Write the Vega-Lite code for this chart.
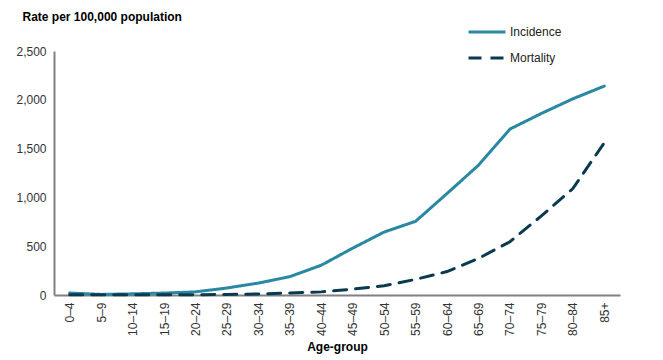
{
  "$schema": "https://vega.github.io/schema/vega-lite/v6.json",
  "width": 566,
  "height": 244,
  "autosize": {"type": "none"},
  "padding": {"left": 54, "top": 51, "right": 43, "bottom": 65},
  "background": "white",
  "config": {
    "view": {"stroke": null},
    "font": "Liberation Sans",
    "axis": {"labelFont": "Liberation Sans", "titleFont": "Liberation Sans", "labelColor": "#333333", "titleColor": "#000000"}
  },
  "data": {
    "values": [
      {"age": "0–4", "series": "Incidence", "rate": 20},
      {"age": "5–9", "series": "Incidence", "rate": 6},
      {"age": "10–14", "series": "Incidence", "rate": 12},
      {"age": "15–19", "series": "Incidence", "rate": 20},
      {"age": "20–24", "series": "Incidence", "rate": 32},
      {"age": "25–29", "series": "Incidence", "rate": 72},
      {"age": "30–34", "series": "Incidence", "rate": 122},
      {"age": "35–39", "series": "Incidence", "rate": 188},
      {"age": "40–44", "series": "Incidence", "rate": 305},
      {"age": "45–49", "series": "Incidence", "rate": 480},
      {"age": "50–54", "series": "Incidence", "rate": 645},
      {"age": "55–59", "series": "Incidence", "rate": 755},
      {"age": "60–64", "series": "Incidence", "rate": 1040},
      {"age": "65–69", "series": "Incidence", "rate": 1330},
      {"age": "70–74", "series": "Incidence", "rate": 1700},
      {"age": "75–79", "series": "Incidence", "rate": 1860},
      {"age": "80–84", "series": "Incidence", "rate": 2010},
      {"age": "85+", "series": "Incidence", "rate": 2140},
      {"age": "0–4", "series": "Mortality", "rate": 3},
      {"age": "5–9", "series": "Mortality", "rate": 2},
      {"age": "10–14", "series": "Mortality", "rate": 2},
      {"age": "15–19", "series": "Mortality", "rate": 2},
      {"age": "20–24", "series": "Mortality", "rate": 3},
      {"age": "25–29", "series": "Mortality", "rate": 5},
      {"age": "30–34", "series": "Mortality", "rate": 10},
      {"age": "35–39", "series": "Mortality", "rate": 20},
      {"age": "40–44", "series": "Mortality", "rate": 32},
      {"age": "45–49", "series": "Mortality", "rate": 60},
      {"age": "50–54", "series": "Mortality", "rate": 95},
      {"age": "55–59", "series": "Mortality", "rate": 160},
      {"age": "60–64", "series": "Mortality", "rate": 240},
      {"age": "65–69", "series": "Mortality", "rate": 375},
      {"age": "70–74", "series": "Mortality", "rate": 546},
      {"age": "75–79", "series": "Mortality", "rate": 810},
      {"age": "80–84", "series": "Mortality", "rate": 1090},
      {"age": "85+", "series": "Mortality", "rate": 1560}
    ]
  },
  "mark": {"type": "line", "strokeWidth": 3, "strokeCap": "round"},
  "encoding": {
    "x": {
      "field": "age", "type": "ordinal", "sort": null,
      "scale": {"type": "point", "padding": 0.5},
      "axis": {
        "title": "Age-group", "titleFontSize": 12, "titleFontWeight": "bold", "titlePadding": 6,
        "labelAngle": -90, "labelFontSize": 12, "labelPadding": 7, "ticks": false,
        "domainColor": "#808080", "domainWidth": 2
      }
    },
    "y": {
      "field": "rate", "type": "quantitative",
      "scale": {"domain": [0, 2500]},
      "axis": {
        "title": "Rate per 100,000 population", "titleAngle": 0, "titleAlign": "left", "titleBaseline": "middle",
        "titleX": -32, "titleY": -35, "titleFontSize": 12, "titleFontWeight": "bold",
        "values": [0, 500, 1000, 1500, 2000, 2500], "format": ",.0f", "labelFontSize": 12, "labelPadding": 8,
        "ticks": false, "grid": false, "domainColor": "#808080", "domainWidth": 2
      }
    },
    "color": {
      "field": "series", "type": "nominal",
      "scale": {"domain": ["Incidence", "Mortality"], "range": ["#2a88a3", "#0a3a50"]},
      "legend": {
        "title": null, "orient": "none", "legendX": 413, "legendY": -39,
        "symbolType": "stroke", "symbolSize": 1369, "symbolStrokeWidth": 3,
        "labelFontSize": 12, "labelColor": "#222222", "labelOffset": 3, "rowPadding": 0
      }
    },
    "strokeDash": {
      "field": "series", "type": "nominal",
      "scale": {"domain": ["Incidence", "Mortality"], "range": [[1, 0], [13, 9]]},
      "legend": null
    }
  }
}
